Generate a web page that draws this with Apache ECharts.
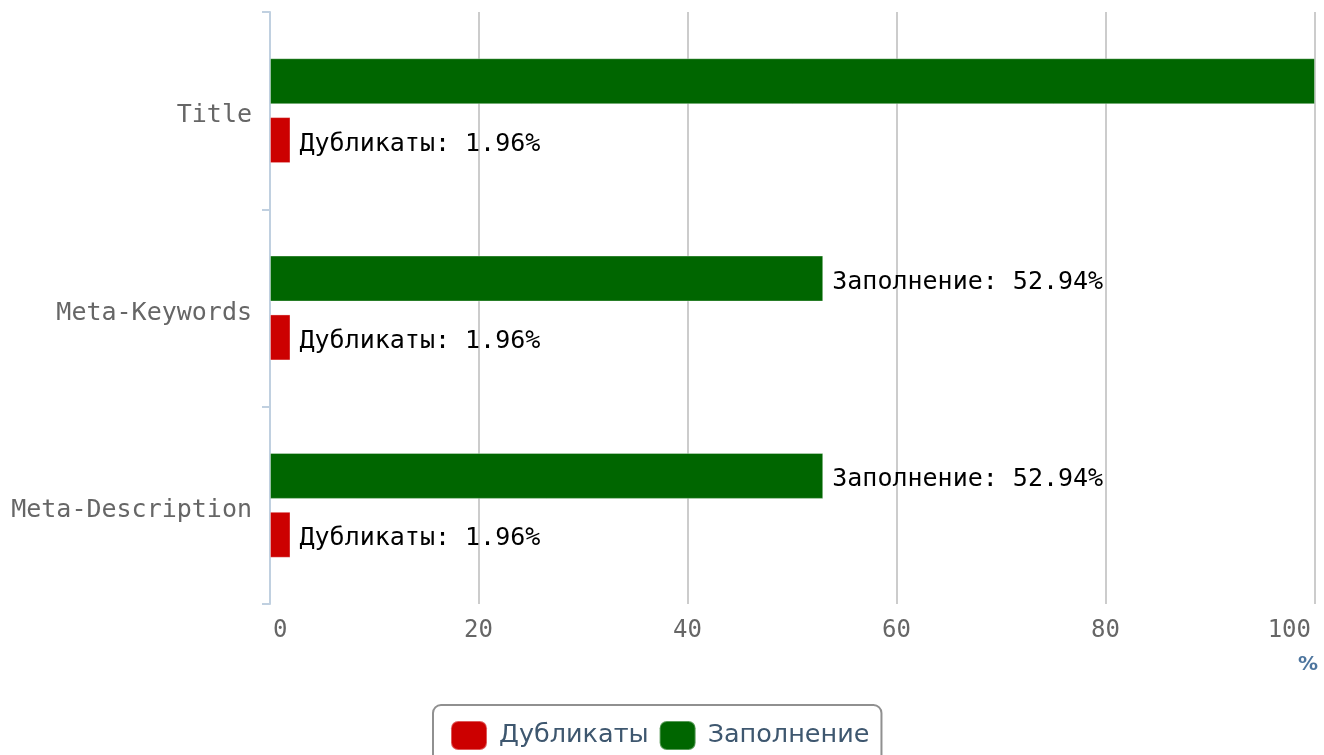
<!DOCTYPE html>
<html>
<head>
<meta charset="utf-8">
<title>Дубликаты и заполнение</title>
<script src="https://cdn.jsdelivr.net/npm/echarts@6/dist/echarts.min.js"></script>
<style>
  html, body { margin: 0; padding: 0; background: #ffffff; }
  #chart { width: 1324px; height: 755px; }
</style>
</head>
<body>
<div id="chart"></div>
<script>
// Categories, top to bottom
const categories = ['Title', 'Meta-Keywords', 'Meta-Description'];
// Share of filled tags, %
const fillValues = [100, 52.94, 52.94];
// Share of duplicated tags, %
const dupValues = [1.96, 1.96, 1.96];
// Value axis ticks
const xTicks = [0, 20, 40, 60, 80, 100];

const mono = 'DejaVu Sans Mono';
const chart = echarts.init(document.getElementById('chart'), null, { renderer: 'canvas' });

const barLabel = {
  show: true,
  position: 'right',
  distance: 9,
  offset: [0, 4],
  color: '#000000',
  fontFamily: mono,
  fontSize: 25,
  formatter: p => p.seriesName + ': ' + p.value + '%'
};

chart.setOption({
  animation: false,
  backgroundColor: '#ffffff',
  grid: { left: 270, right: 9, top: 12, bottom: 151, containLabel: false },
  // axis unit shown under the right end of the value axis
  title: {
    text: '%',
    right: 6,
    top: 655,
    padding: 0,
    textStyle: {
      color: '#4D759E',
      fontWeight: 'bold',
      fontFamily: 'DejaVu Sans',
      fontSize: 20
    }
  },
  legend: {
    data: ['Дубликаты', 'Заполнение'],
    left: 433,
    top: 705,
    orient: 'horizontal',
    itemWidth: 36,
    itemHeight: 29,
    itemGap: 10,
    padding: [15, 12, 13, 17],
    borderColor: '#909090',
    borderWidth: 2,
    borderRadius: 8,
    icon: 'roundRect',
    textStyle: {
      color: '#3E576F',
      fontFamily: 'DejaVu Sans',
      fontSize: 25.5,
      padding: [4, 0, 0, 7]
    }
  },
  xAxis: {
    type: 'value',
    min: xTicks[0],
    max: xTicks[xTicks.length - 1],
    interval: xTicks[1] - xTicks[0],
    axisLine: { show: false },
    axisTick: { show: false },
    axisLabel: {
      color: '#666666',
      fontFamily: mono,
      fontSize: 24,
      margin: 15,
      alignMinLabel: 'left',
      alignMaxLabel: 'right',
      padding: [0, 4, 0, 3]
    },
    splitLine: { show: true, lineStyle: { color: '#CCCCCC', width: 2 } }
  },
  yAxis: {
    type: 'category',
    data: categories,
    inverse: true,
    axisLine: { show: true, lineStyle: { color: '#C0D0E0', width: 2 } },
    axisTick: { show: true, length: 8, lineStyle: { color: '#C0D0E0', width: 2 } },
    axisLabel: {
      margin: 18,
      formatter: v => '{c|' + v + '}',
      rich: {
        c: {
          color: '#666666',
          fontFamily: mono,
          fontSize: 25,
          padding: [10, 0, 0, 0]
        }
      }
    },
    splitLine: { show: false }
  },
  series: [
    {
      name: 'Заполнение',
      type: 'bar',
      data: fillValues,
      barWidth: 46,
      barGap: '28%',
      itemStyle: { color: '#006600', borderColor: 'rgba(255,255,255,0.35)', borderWidth: 1 },
      label: barLabel
    },
    {
      name: 'Дубликаты',
      type: 'bar',
      data: dupValues,
      barWidth: 46,
      barGap: '28%',
      itemStyle: { color: '#CC0000', borderColor: 'rgba(255,255,255,0.35)', borderWidth: 1 },
      label: barLabel
    }
  ]
});
</script>
</body>
</html>
